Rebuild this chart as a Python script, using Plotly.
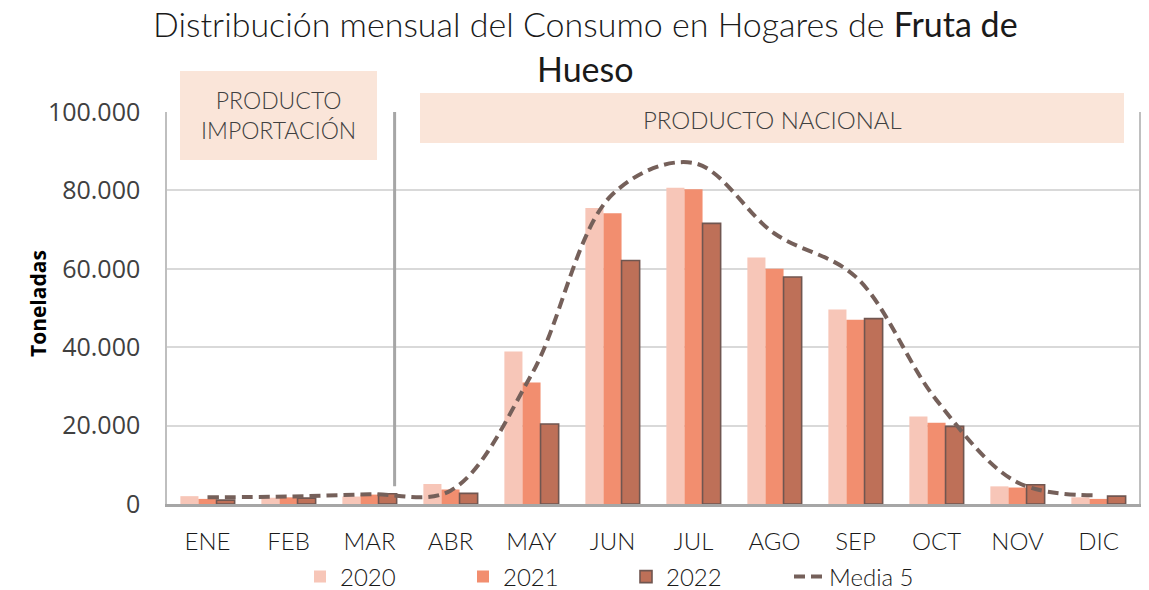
import plotly.graph_objects as go

months = ["ENE", "FEB", "MAR", "ABR", "MAY", "JUN", "JUL", "AGO", "SEP", "OCT", "NOV", "DIC"]
v2020 = [2000, 1600, 1900, 5100, 38900, 75500, 80700, 62900, 49600, 22300, 4500, 1700]
v2021 = [1300, 1700, 2400, 3700, 31000, 74200, 80300, 60000, 47000, 20700, 4200, 1300]
v2022 = [1000, 1500, 2600, 2700, 20400, 62100, 71600, 57900, 47300, 19800, 4900, 2000]
media5 = [1700, 1900, 2500, 3400, 33000, 79000, 87000, 69000, 58000, 26500, 5500, 2200]

CAL = "Calibri Light, Lato, sans-serif"
SEG = "Segoe UI, Open Sans, sans-serif"
TXT = "#404040"

fig = go.Figure()
fig.add_trace(go.Bar(x=months, y=v2020, name="2020", marker=dict(color="#F7C6B8", line=dict(width=0))))
fig.add_trace(go.Bar(x=months, y=v2021, name="2021", marker=dict(color="#F28E6F", line=dict(width=0))))
fig.add_trace(go.Bar(x=months, y=v2022, name="2022", marker=dict(color="#BE7058", line=dict(color="#705650", width=1.6))))
fig.add_trace(go.Scatter(x=months, y=media5, name="Media 5", mode="lines",
                         line=dict(color="#75605A", width=4, dash="11px,6px", shape="spline", smoothing=1)))

# body margin is removed by post_script, so figure sits at page (0,0)
W, H = 1149, 590
PL, PR, PT, PB = 167, 1139, 112, 504          # plot area in page pixels
L, R, T, B = PL, W - PR, PT, H - PB
pw, ph = PR - PL, PB - PT

def px(x):
    return (x - PL) / pw

def py(y):
    return (PB - y) / ph

shapes = [
    dict(type="line", xref="x", yref="y", x0=2.31, x1=2.31, y0=4500, y1=100600,
         line=dict(color="#A6A6A6", width=3), layer="above"),
    dict(type="rect", xref="paper", yref="paper", x0=px(180), x1=px(377), y0=py(160), y1=py(71),
         fillcolor="#FAE5D9", line=dict(width=0), layer="above"),
    dict(type="rect", xref="paper", yref="paper", x0=px(420), x1=px(1124), y0=py(143), y1=py(93),
         fillcolor="#FAE5D9", line=dict(width=0), layer="above"),
]

annotations = [
    dict(text="Distribución mensual del Consumo en Hogares de <span style='font-weight:400'>Fruta de</span>",
         xref="paper", yref="paper",
         x=px(585), y=py(24), xanchor="center", yanchor="middle", showarrow=False,
         font=dict(family=CAL, size=34, color="#1a1a1a", weight=300)),
    dict(text="Hueso", xref="paper", yref="paper",
         x=px(585), y=py(68), xanchor="center", yanchor="middle", showarrow=False,
         font=dict(family=CAL, size=34, color="#1a1a1a", weight=400)),
    dict(text="PRODUCTO<br>IMPORTACIÓN", xref="paper", yref="paper",
         x=px(278), y=py(115), xanchor="center", yanchor="middle", showarrow=False,
         font=dict(family=CAL, size=23, color=TXT, weight=300)),
    dict(text="PRODUCTO NACIONAL", xref="paper", yref="paper",
         x=px(772), y=py(119), xanchor="center", yanchor="middle", showarrow=False,
         font=dict(family=CAL, size=24, color=TXT, weight=300)),
    dict(text="<b>Toneladas</b>", xref="paper", yref="paper", textangle=-90,
         x=px(38), y=py(304), xanchor="center", yanchor="middle", showarrow=False,
         font=dict(family=SEG, size=21, color="#000000")),
]

fig.update_layout(
    width=W, height=H,
    margin=dict(l=L, r=R, t=T, b=B, autoexpand=False),
    paper_bgcolor="white", plot_bgcolor="white",
    barmode="group", bargap=0.33, bargroupgap=0,
    separators=",.",
    shapes=shapes, annotations=annotations,
    showlegend=True,
    legend=dict(orientation="h", x=px(300), xanchor="left", y=py(577), yanchor="middle",
                font=dict(family=CAL, size=24, color="#1a1a1a", weight=300),
                entrywidth=118, entrywidthmode="pixels",
                bgcolor="rgba(0,0,0,0)"),
)
fig.update_xaxes(showline=True, linecolor="#A6A6A6", linewidth=2.5, mirror=False,
                 showgrid=False, ticks="", ticklabelstandoff=14,
                 tickfont=dict(family=CAL, size=24, color="#1a1a1a", weight=300))
fig.update_yaxes(range=[0, 100000], tickvals=[0, 20000, 40000, 60000, 80000, 100000],
                 tickformat=",d", showgrid=True, gridcolor="#D9D9D9", gridwidth=1.5,
                 showline=True, linecolor="#BFBFBF", linewidth=1.5, mirror=True,
                 zeroline=False, ticks="", ticklabelstandoff=20,
                 tickfont=dict(family=SEG, size=25, color="#404040"))

fig.write_html("out.html", config={"displayModeBar": False},
               post_script="document.body.style.margin='0';")
